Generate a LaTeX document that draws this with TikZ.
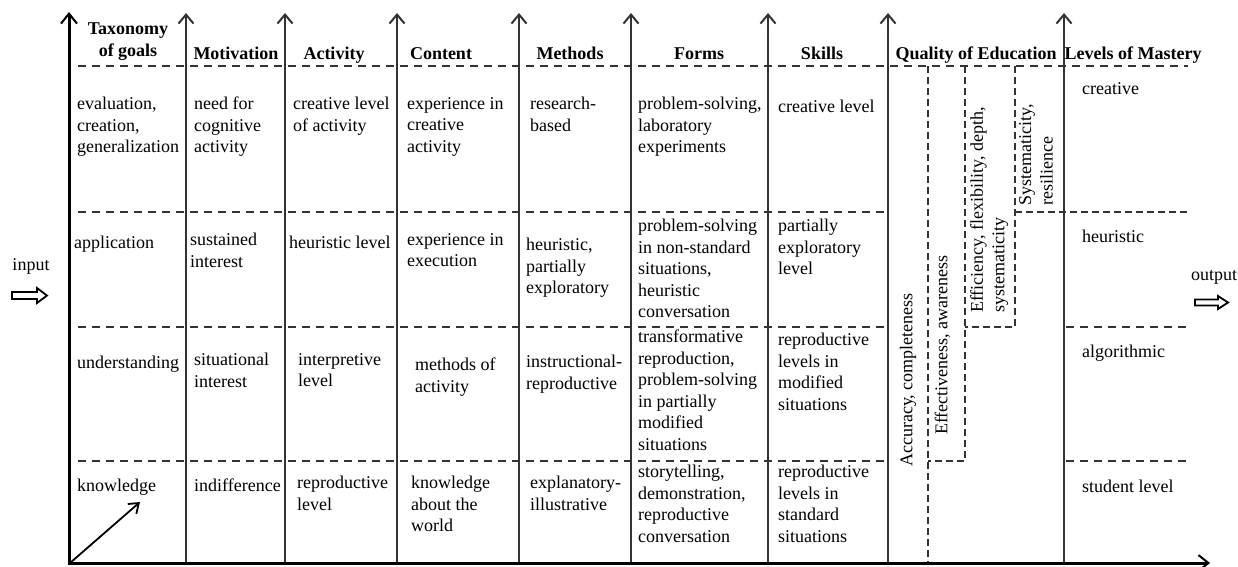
\documentclass[tikz,border=0pt]{standalone}
\usepackage{fontspec}
\setmainfont{Liberation Serif}
\usetikzlibrary{arrows.meta}
\tikzset{
  axisline/.style={line width=2pt, draw=black!80, -{Straight Barb[length=9pt,width=15pt]}},
  mainaxis/.style={line width=3pt, draw=black, -{Straight Barb[length=10pt,width=16pt,line width=2pt]}},
  gridline/.style={line width=2pt, draw=black!80, dash pattern=on 8pt off 6pt},
  qline/.style={line width=1.8pt, draw=black!80, dash pattern=on 7pt off 4pt},
  cell/.style={anchor=north west, inner sep=0pt, align=left, font=\fontsize{18}{21.5}\selectfont, execute at begin node=\strut},
  headcell/.style={anchor=north, inner sep=0pt, align=center, font=\fontsize{18}{21.5}\selectfont\bfseries, execute at begin node=\strut},
  vtext/.style={anchor=north west, inner sep=0pt, align=left, rotate=90, font=\fontsize{18}{21.5}\selectfont, execute at begin node=\strut},
  io/.style={anchor=base, inner sep=0pt, font=\fontsize{18}{21.5}\selectfont},
  hollow/.style={line width=1.8pt, draw=black, line join=miter},
}
\begin{document}
\begin{tikzpicture}[x=1pt,y=-1pt]
\useasboundingbox (0,0) rectangle (1238,566);

% dashed grid
\draw[gridline] (78,66) -- (1188,66);
\foreach \yy in {212,327,461} {
  \draw[gridline] (78,\yy) -- (889,\yy);
}
\draw[gridline] (1066,327) -- (1188,327);
\draw[gridline] (1066,461) -- (1188,461);
% quality region
\draw[qline] (928,66) -- (928,563);
\draw[qline] (965,66) -- (965,461) -- (928,461);
\draw[qline] (1015,66) -- (1015,327) -- (965,327);
\draw[qline] (1015,212) -- (1188,212);

% vertical axes
\foreach \xx in {186,285,397,519,631,768,888,1064} {
  \draw[axisline] (\xx,563) -- (\xx,13);
}
\draw[mainaxis] (69,564.5) -- (69,12);
\draw[mainaxis] (67.5,563) -- (1210,563);
\coordinate (o) at (70,563);
\coordinate (d) at (140,502);
\draw[line width=1.8pt, -{Straight Barb[length=9pt,width=13pt]}] (o) -- (d);

% headers
\node[headcell] (h1) at (128,23) {Taxonomy\\of goals};
\node[headcell] (h2) at (236,44) {Motivation};
\node[headcell] (h3) at (334,44) {Activity};
\node[headcell] (h4) at (441,44) {Content};
\node[headcell] (h5) at (570,44) {Methods};
\node[headcell] (h6) at (699,44) {Forms};
\node[headcell] (h7) at (822,44) {Skills};
\node[headcell] (h8) at (976,44) {Quality of Education};
\node[headcell] (h9) at (1133,44) {Levels of Mastery};

% row 1
\node[cell] (t1) at (77,97) {evaluation,\\creation,\\generalization};
\node[cell] (m1) at (194,97) {need for\\cognitive\\activity};
\node[cell] (a1) at (293,97) {creative level\\of activity};
\node[cell] (c1) at (407,97) {experience in\\creative\\activity};
\node[cell] (me1) at (530,97) {research-\\based};
\node[cell] (f1) at (638,97) {problem-solving,\\laboratory\\experiments};
\node[cell] (s1) at (778,97) {creative level};
\node[cell] (l1) at (1082,79) {creative};

% row 2
\node[cell] (t2) at (74,233) {application};
\node[cell] (m2) at (190,233) {sustained\\interest};
\node[cell] (a2) at (289,233) {heuristic level};
\node[cell] (c2) at (407,233) {experience in\\execution};
\node[cell] (me2) at (526,238) {heuristic,\\partially\\exploratory};
\node[cell] (f2) at (638,219) {problem-solving\\in non-standard\\situations,\\heuristic\\conversation};
\node[cell] (s2) at (778,219) {partially\\exploratory\\level};
\node[cell] (l2) at (1082,227) {heuristic};

% row 3
\node[cell] (t3) at (77,353) {understanding};
\node[cell] (m3) at (194,353) {situational\\interest};
\node[cell] (a3) at (298,353) {interpretive\\level};
\node[cell] (c3) at (415,358) {methods of\\activity};
\node[cell] (me3) at (526,355) {instructional-\\reproductive};
\node[cell] (f3) at (638,330) {transformative\\reproduction,\\problem-solving\\in partially\\modified\\situations};
\node[cell] (s3) at (778,333) {reproductive\\levels in\\modified\\situations};
\node[cell] (l3) at (1082,342) {algorithmic};

% row 4
\node[cell] (t4) at (77,476) {knowledge};
\node[cell] (m4) at (194,476) {indifference};
\node[cell] (a4) at (297,476) {reproductive\\level};
\node[cell] (c4) at (411,476) {knowledge\\about the\\world};
\node[cell] (me4) at (530,476) {explanatory-\\illustrative};
\node[cell] (f4) at (638,465) {storytelling,\\demonstration,\\reproductive\\conversation};
\node[cell] (s4) at (778,465) {reproductive\\levels in\\standard\\situations};
\node[cell] (l4) at (1082,477) {student level};

% quality texts
\node[vtext] (q1) at (897,467) {Accuracy, completeness};
\node[vtext] (q2) at (932,435) {Effectiveness, awareness};
\node[vtext] (q3) at (970,313) {Efficiency, flexibility, depth,\\systematicity};
\node[vtext] (q4) at (1019,206) {Systematicity,\\resilience};

% input / output
\node[io] (in) at (31,270) {input};
\draw[hollow] (12,292) -- (37,292) -- (37,288) -- (47,295.5) -- (37,303) -- (37,299) -- (12,299) -- cycle;
\node[io] (out) at (1214,280) {output};
\draw[hollow] (1195,299.5) -- (1218,299.5) -- (1218,296) -- (1228,302.5) -- (1218,309) -- (1218,305.5) -- (1195,305.5) -- cycle;
\end{tikzpicture}
\end{document}
